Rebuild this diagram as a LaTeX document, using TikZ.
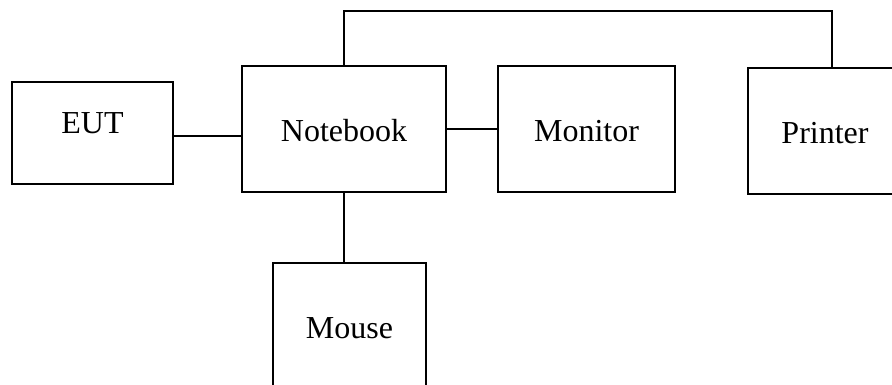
\documentclass[tikz,border=0pt]{standalone}
\usepackage{fontspec}
\setmainfont{Liberation Serif}
\usepackage{tikz}

\tikzset{
    unit/.style={draw, line width=1.2pt, outer sep=0pt, inner sep=0pt,
        font=\fontsize{24}{28}\selectfont, text height=18pt, text depth=0pt},
    wire/.style={line width=1.2pt}
}

\begin{document}
\begin{tikzpicture}[x=0.75pt,y=-0.75pt]
    \useasboundingbox (0,0) rectangle (892,385);
    \clip (0,0) rectangle (892,385);

    % Boxes
    \node[unit, minimum width=120.75pt, minimum height=76.5pt, text depth=18pt] (eut) at (92.5,133) {EUT};
    \node[unit, minimum width=153pt, minimum height=94.5pt] (notebook) at (344,129) {Notebook};
    \node[unit, minimum width=132.75pt, minimum height=94.5pt] (monitor) at (586.5,129) {Monitor};
    \node[unit, minimum width=115.5pt, minimum height=94.5pt] (printer) at (825,131) {Printer};
    \node[unit, minimum width=114.75pt, minimum height=94.5pt] (mouse) at (349.5,326) {Mouse};

    % Cables
    \coordinate (bus) at (832,11);
    \draw[wire] (eut.east |- 0,136) -- (notebook.west |- 0,136);
    \draw[wire] (notebook.east) -- (monitor.west);
    \draw[wire] (notebook.north) |- (bus) -- (bus |- printer.north);
    \draw[wire] (notebook.south) -- (notebook.south |- mouse.north);
\end{tikzpicture}
\end{document}
